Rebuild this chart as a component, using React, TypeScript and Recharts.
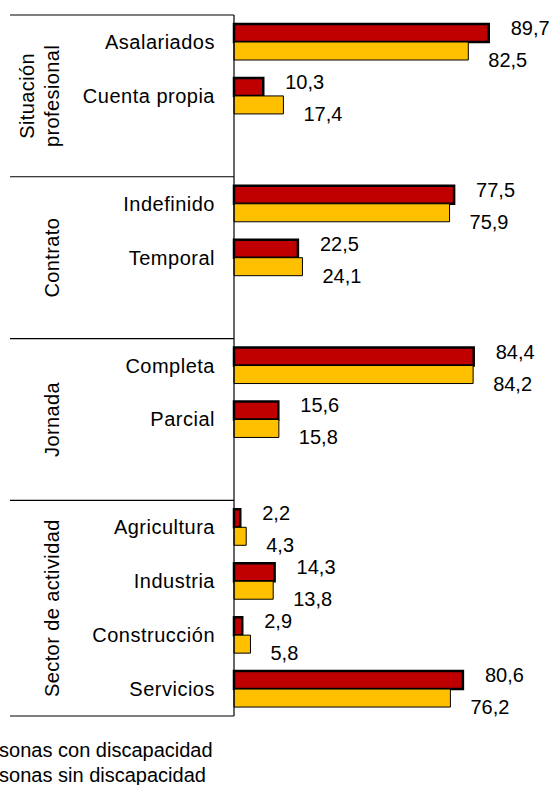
import { BarChart, Bar, XAxis, YAxis, LabelList } from 'recharts';

const groupLabels = [['Situación', 'profesional'], ['Contrato'], ['Jornada'], ['Sector de actividad']];
const categories = [
  ['Asalariados', 'Cuenta propia'],
  ['Indefinido', 'Temporal'],
  ['Completa', 'Parcial'],
  ['Agricultura', 'Industria', 'Construcción', 'Servicios'],
];
const conDiscapacidad = [[89.7, 10.3], [77.5, 22.5], [84.4, 15.6], [2.2, 14.3, 2.9, 80.6]];
const sinDiscapacidad = [[82.5, 17.4], [75.9, 24.1], [84.2, 15.8], [4.3, 13.8, 5.8, 76.2]];
const seriesNames = ['Personas con discapacidad', 'Personas sin discapacidad'];

const W = 555;
const H = 785;
const MARGIN = { top: 15, right: 37, bottom: 69, left: 0 };
const AXIS_X = 234;
const FONT = '"Liberation Sans", Arial, sans-serif';
const RED = '#C00000';
const YELLOW = '#FFC000';

type Row = {
  key: string;
  name: string;
  con: number | null;
  sin: number | null;
  group: number;
  first: boolean;
  span: number;
  last: boolean;
};

// one spacer row after each group except the last
const rows: Row[] = [];
categories.forEach((items, g) => {
  const spacer = g < categories.length - 1;
  const span = items.length + (spacer ? 1 : 0);
  items.forEach((name, i) => {
    rows.push({
      key: `r${rows.length}`,
      name,
      con: conDiscapacidad[g][i],
      sin: sinDiscapacidad[g][i],
      group: g,
      first: i === 0,
      span,
      last: g === categories.length - 1 && i === items.length - 1,
    });
  });
  if (spacer) {
    rows.push({ key: `r${rows.length}`, name: '', con: null, sin: null, group: g, first: false, span, last: false });
  }
});

const PLOT_H = H - MARGIN.top - MARGIN.bottom;
const BAND = PLOT_H / rows.length;

const fmt = (v: number) => v.toFixed(1).replace('.', ',');

function CategoryTick(props: any) {
  const { y, payload } = props;
  const row = rows.find((r) => r.key === payload.value);
  if (!row) return null;
  const top = y - BAND / 2;
  const lines = groupLabels[row.group];
  const cy = top + (row.span * BAND) / 2;
  const cx = lines.length > 1 ? 40 : 52;
  return (
    <g>
      <text x={AXIS_X - 19} y={y} textAnchor="end" dominantBaseline="central" fontSize={20} letterSpacing={0.5} fill="#000" fontFamily={FONT}>
        {row.name}
      </text>
      {row.first && <line x1={10} x2={AXIS_X} y1={top} y2={top} stroke="#000" strokeWidth={1.2} />}
      {row.last && <line x1={10} x2={AXIS_X} y1={y + BAND / 2} y2={y + BAND / 2} stroke="#000" strokeWidth={1.2} />}
      {row.first && (
        <text
          transform={`rotate(-90, ${cx}, ${cy})`}
          x={cx}
          y={cy}
          textAnchor="middle"
          dominantBaseline="central"
          fontSize={20}
          letterSpacing={0.4}
          fill="#000"
          fontFamily={FONT}
        >
          {lines.map((l, i) => (
            <tspan key={l} x={cx} y={cy + (i - (lines.length - 1) / 2) * 25}>
              {l}
            </tspan>
          ))}
        </text>
      )}
    </g>
  );
}

const valueLabel = (dx: number, dy: number) => (props: any) => {
  const { x, y, width, height, value } = props;
  if (value == null) return null;
  return (
    <text
      x={x + width + dx}
      y={y + height / 2 + dy}
      dominantBaseline="central"
      fontSize={20}
      fill="#000"
      fontFamily={FONT}
    >
      {fmt(value)}
    </text>
  );
};

export default function App() {
  return (
    <div style={{ position: 'absolute', left: 0, top: 0, width: W, height: H, overflow: 'hidden', background: '#fff' }}>
      <BarChart width={W} height={H} data={rows} layout="vertical" margin={MARGIN} barGap={0} barSize={18}>
        <XAxis type="number" domain={[0, 100]} hide />
        <YAxis
          type="category"
          dataKey="key"
          width={AXIS_X}
          interval={0}
          axisLine={{ stroke: '#000', strokeWidth: 1.2 }}
          tickLine={false}
          tick={<CategoryTick />}
        />
        <Bar dataKey="con" name={seriesNames[0]} fill={RED} stroke="#000" strokeWidth={2.5} isAnimationActive={false}>
          <LabelList dataKey="con" content={valueLabel(22, -5)} />
        </Bar>
        <Bar dataKey="sin" name={seriesNames[1]} fill={YELLOW} stroke="#000" strokeWidth={1} isAnimationActive={false}>
          <LabelList dataKey="sin" content={valueLabel(20, 9)} />
        </Bar>
      </BarChart>
      <div style={{ position: 'absolute', left: -32, top: 738, fontFamily: FONT, fontSize: 20, lineHeight: '25px', color: '#000', whiteSpace: 'nowrap' }}>
        <div>{seriesNames[0]}</div>
        <div>{seriesNames[1]}</div>
      </div>
    </div>
  );
}
